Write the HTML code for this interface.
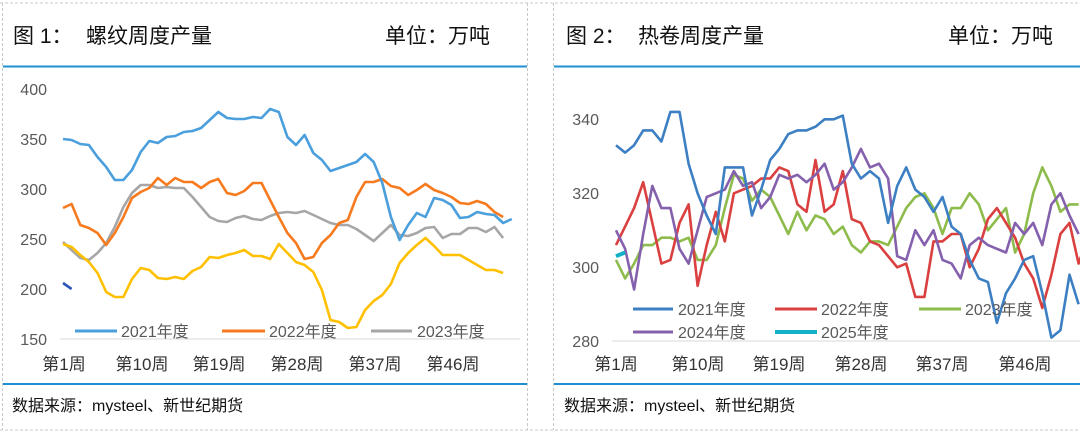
<!DOCTYPE html>
<html><head><meta charset="utf-8"><style>
body{margin:0;width:1080px;height:432px;background:#fff;overflow:hidden;font-family:"Liberation Sans","Noto Sans CJK SC",sans-serif}
svg{position:absolute;left:0;top:0}
</style></head><body>
<svg id="s" width="1080" height="432" xmlns="http://www.w3.org/2000/svg" font-family="Liberation Sans, Noto Sans CJK SC, sans-serif">
<g stroke="#c8c8c8" stroke-dasharray="3,2" fill="none" stroke-width="1">
<line x1="0" y1="3" x2="1080" y2="3"/><line x1="0" y1="430" x2="1080" y2="430"/>
<line x1="2.5" y1="3" x2="2.5" y2="430"/><line x1="527.5" y1="3" x2="527.5" y2="430"/><line x1="553.5" y1="3" x2="553.5" y2="430"/>
</g>
<g stroke="#1f8fd0" stroke-width="2">
<line x1="3" y1="66.5" x2="527" y2="66.5"/><line x1="554" y1="66.5" x2="1080" y2="66.5"/>
<line x1="3" y1="384" x2="527" y2="384"/><line x1="554" y1="384" x2="1080" y2="384"/>
</g>
<g font-size="21" fill="#111">
<text x="13" y="43">图 1：</text><text x="86" y="43">螺纹周度产量</text><text x="385" y="43">单位：万吨</text>
<text x="566" y="43">图 2：</text><text x="638" y="43">热卷周度产量</text><text x="948" y="43">单位：万吨</text>
</g>
<g font-size="16" fill="#111">
<text x="12" y="411">数据来源：mysteel、新世纪期货</text>
<text x="564" y="411">数据来源：mysteel、新世纪期货</text>
</g>
<g font-size="16" fill="#595959" text-anchor="end">
<text x="47" y="95">400</text><text x="47" y="145">350</text><text x="47" y="195">300</text><text x="47" y="245">250</text><text x="47" y="295">200</text><text x="47" y="345">150</text>
<text x="599" y="125">340</text><text x="599" y="199">320</text><text x="599" y="273">300</text><text x="599" y="347">280</text>
</g>
<g font-size="17" fill="#333" text-anchor="middle">
<text x="64" y="370">第1周</text><text x="142" y="370">第10周</text><text x="219" y="370">第19周</text><text x="297" y="370">第28周</text><text x="375" y="370">第37周</text><text x="453" y="370">第46周</text>
<text x="616" y="370">第1周</text><text x="698" y="370">第10周</text><text x="779" y="370">第19周</text><text x="861" y="370">第28周</text><text x="942" y="370">第37周</text><text x="1025" y="370">第46周</text>
</g>
<line x1="60" y1="339" x2="520" y2="339" stroke="#d9d9d9"/>
<line x1="612" y1="341" x2="1080" y2="341" stroke="#d9d9d9"/>
<g id="L" fill="none" stroke-width="2.6" stroke-linejoin="round"></g>
<g font-size="16" fill="#595959">
<line x1="75" y1="331" x2="117" y2="331" stroke="#4a9fdc" stroke-width="3"/><text x="121" y="337">2021年度</text>
<line x1="222" y1="331" x2="265" y2="331" stroke="#f77b1e" stroke-width="3"/><text x="269" y="337">2022年度</text>
<line x1="371" y1="331" x2="412" y2="331" stroke="#a6a6a6" stroke-width="3"/><text x="417" y="337">2023年度</text>
<line x1="633" y1="309" x2="673" y2="309" stroke="#3c7fc3" stroke-width="3"/><text x="678" y="315">2021年度</text>
<line x1="775" y1="309" x2="817" y2="309" stroke="#d9403f" stroke-width="3"/><text x="821" y="315">2022年度</text>
<line x1="919" y1="309" x2="961" y2="309" stroke="#8dbb4c" stroke-width="3"/><text x="965" y="315">2023年度</text>
<line x1="633" y1="332" x2="673" y2="332" stroke="#8460ad" stroke-width="3"/><text x="678" y="338">2024年度</text>
<line x1="775" y1="332" x2="817" y2="332" stroke="#12b0c9" stroke-width="4"/><text x="821" y="338">2025年度</text>
</g>
</svg>
<script>
var L=document.getElementById('L');
function pl(d,x0,dx,fy,col,w){var p=d.map(function(v,i){return (x0+i*dx).toFixed(1)+','+fy(v).toFixed(1)}).join(' ');
var e=document.createElementNS('http://www.w3.org/2000/svg','polyline');e.setAttribute('points',p);e.setAttribute('stroke',col);if(w)e.setAttribute('stroke-width',w);L.appendChild(e);}
var fl=function(v){return 89+(400-v)};
var fr=function(v){return 119.3+(340-v)*3.7};
var LX=63,LD=8.63,RX=616,RD=9.07;
pl([247,239,231,229,236,246,262,282,296,304,304,301,302,301,301,292,282,272,268,267,271,273,270,269,273,276,277,276,278,274,270,266,264,264,260,254,248,256,264,254,253,256,261,262,251,255,255,261,261,257,262,251],LX,LD,fl,'#a6a6a6');
pl([245,242,234,227,216,197,192,192,210,221,219,211,210,212,210,218,222,232,231,234,236,239,233,233,230,245,236,227,224,217,199,169,167,161,162,179,188,194,205,226,236,244,251,243,234,234,234,229,224,219,219,216],LX,LD,fl,'#ffc000');
pl([281,285,264,261,256,244,256,272,291,297,301,311,304,311,307,307,301,307,310,296,294,298,306,306,289,272,256,246,230,232,246,254,266,269,292,307,307,310,303,301,294,299,305,299,296,292,286,285,288,285,277,272],LX,LD,fl,'#f77b1e');
pl([350,349,345,344,332,322,309,309,319,337,348,346,352,353,357,358,361,369,377,371,370,370,372,371,380,377,352,344,354,336,329,318,321,324,327,335,327,306,272,249,264,276,272,291,289,284,271,272,277,275,274,266,270],LX,LD,fl,'#4a9fdc');
pl([206,200],LX,LD,fl,'#2e54b8');
pl([302,297,301,306,306,308,308,307,308,302,302,306,316,325,324,318,321,319,314,309,315,310,314,313,309,311,306,304,307,307,306,311,316,319,320,316,309,316,316,320,317,310,313,316,304,309,320,327,322,315,317,317],RX,RD,fr,'#8dbb4c');
pl([306,311,316,323,312,301,302,312,317,295,306,315,307,320,321,322,324,324,327,326,317,315,329,315,317,326,313,312,307,306,303,300,301,292,292,307,307,309,309,300,305,313,316,312,308,301,297,289,298,309,312,301,308],RX,RD,fr,'#d9403f');
pl([310,305,294,309,322,316,316,305,301,310,319,320,321,326,322,323,316,319,325,324,325,323,325,328,321,323,327,332,327,328,324,303,302,310,306,310,302,301,297,306,308,306,305,304,312,309,312,306,317,320,314,309],RX,RD,fr,'#8460ad');
pl([333,331,333,337,337,334,342,342,328,320,314,309,327,327,327,314,321,329,332,336,337,337,338,340,340,341,328,324,326,324,312,322,327,321,319,315,319,311,309,302,297,296,285,293,297,302,303,293,281,283,298,290],RX,RD,fr,'#3c7fc3');
pl([303,304],RX,RD,fr,'#12b0c9',4);
</script>
</body></html>
